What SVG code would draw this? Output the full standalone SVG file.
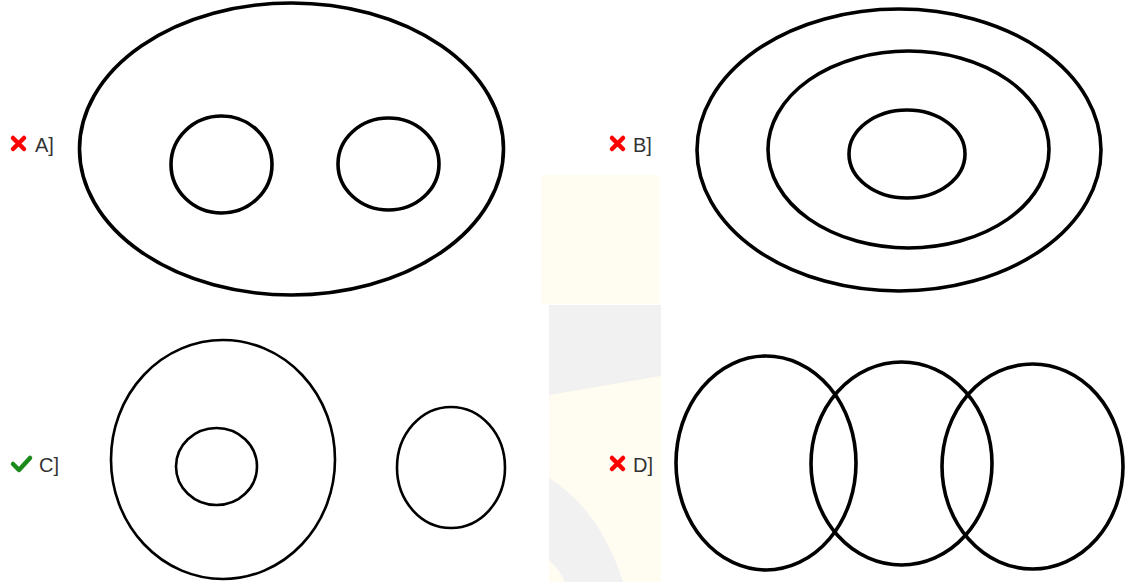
<svg xmlns="http://www.w3.org/2000/svg" width="1125" height="582" viewBox="0 0 1125 582">
<style>
.s{fill:none;stroke:#000;stroke-width:3.6}
.t{fill:none;stroke:#000;stroke-width:2.6}
.lbl{font-family:"Liberation Sans",Arial,sans-serif;font-size:20px;fill:#333}
.x{stroke:#f00;stroke-width:4.5;stroke-linecap:round}
.ok{fill:none;stroke:#1a8a1a;stroke-width:4.5;stroke-linecap:round;stroke-linejoin:round}
</style>
<rect width="1125" height="582" fill="#fff"/>
<g id="watermark">
<rect x="542" y="175" width="118" height="129" fill="#fffcf2"/>
<rect x="549" y="305" width="112" height="277" fill="#f1f1f1"/>
<path d="M549 395 L661 376 L661 582 L623 582 Q600 510 549 478 Z" fill="#fffcf2"/>
<path d="M549 560 Q560 570 565 582 L549 582 Z" fill="#fffcf2"/>
</g>
<g id="optionA">
<ellipse class="s" cx="291.5" cy="149" rx="212" ry="146"/>
<ellipse class="s" cx="221.5" cy="164.5" rx="50.5" ry="48.5"/>
<ellipse class="s" cx="388.5" cy="164" rx="50.5" ry="46"/>
<path class="x" d="M13 138 L24 149 M24 138 L13 149"/>
<text class="lbl" x="35" y="152">A]</text>
</g>
<g id="optionB">
<ellipse class="s" cx="899" cy="150" rx="202" ry="141"/>
<ellipse class="s" cx="908.5" cy="149.5" rx="140.5" ry="98.5"/>
<ellipse class="s" cx="907" cy="154" rx="58" ry="44"/>
<path class="x" d="M612 138 L623 149 M623 138 L612 149"/>
<text class="lbl" x="633" y="152">B]</text>
</g>
<g id="optionC">
<ellipse class="t" cx="223" cy="459.5" rx="112" ry="119.5"/>
<ellipse class="t" cx="216.5" cy="466.5" rx="40.5" ry="38.5"/>
<ellipse class="t" cx="451" cy="467.5" rx="54" ry="60.5"/>
<path class="ok" d="M13 464 L19 470 L30 458"/>
<text class="lbl" x="39" y="472">C]</text>
</g>
<g id="optionD">
<ellipse class="s" cx="766" cy="463" rx="90" ry="107"/>
<ellipse class="s" cx="901.5" cy="463.5" rx="90.5" ry="101.5"/>
<ellipse class="s" cx="1032.5" cy="466.5" rx="90.5" ry="102.5"/>
<path class="x" d="M612 458 L623 469 M623 458 L612 469"/>
<text class="lbl" x="633" y="472">D]</text>
</g>
</svg>
